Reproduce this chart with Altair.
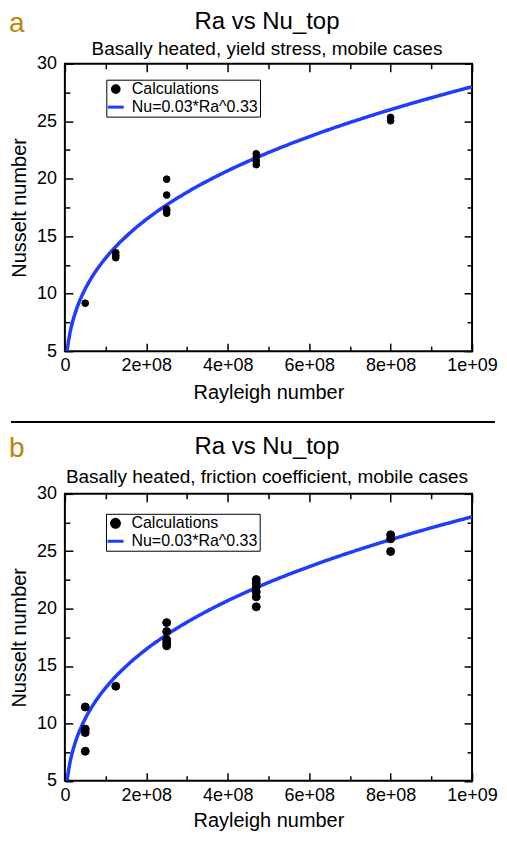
import altair as alt
import numpy as np
import pandas as pd

FONT = "Liberation Sans"
BLUE = "#1f3cff"
GOLD = "#B8860B"

# ---------------- data ----------------
SERIES = ["Calculations", "Nu=0.03*Ra^0.33"]
PANEL_LABELS = ["a", "b"]
TITLE = "Ra vs Nu_top"
SUBTITLES = [
    "Basally heated, yield stress, mobile cases",
    "Basally heated, friction coefficient, mobile cases",
]

ra_a = [5e7, 1.25e8, 1.25e8, 1.25e8, 2.5e8, 2.5e8, 2.5e8, 2.5e8, 2.5e8,
        4.7e8, 4.7e8, 4.7e8, 4.7e8, 8e8, 8e8]
nu_a = [9.17, 13.56, 13.33, 13.13, 19.96, 18.58, 17.35, 17.24, 17.0,
        22.17, 21.88, 21.54, 21.22, 25.33, 25.04]

ra_b = [5e7, 5e7, 5e7, 5e7, 1.25e8, 2.5e8, 2.5e8, 2.5e8, 2.5e8, 2.5e8,
        4.7e8, 4.7e8, 4.7e8, 4.7e8, 4.7e8, 4.7e8, 8e8, 8e8, 8e8]
nu_b = [11.43, 9.5, 9.2, 7.57, 13.24, 18.78, 18.0, 17.28, 17.0, 16.76,
        22.53, 22.24, 21.9, 21.46, 21.03, 20.16, 26.43, 26.08, 24.98]

# fit stated in the legend: Nu = 0.03 * Ra^0.33
FIT_COEF = 0.03
FIT_EXP = 0.33

X_MAJOR = [0, 2e8, 4e8, 6e8, 8e8, 1e9]
X_MINOR = [1e8, 3e8, 5e8, 7e8, 9e8]
Y_MAJOR = [5, 10, 15, 20, 25, 30]
Y_MINOR = [7.5, 12.5, 17.5, 22.5, 27.5]
X_DOMAIN = [0, 1e9]
Y_DOMAIN = [5, 30]

W = 408

ra_start = (Y_DOMAIN[0] / FIT_COEF) ** (1 / FIT_EXP)
fit_ra = np.linspace(ra_start, X_DOMAIN[1], 300)
fit_df = pd.DataFrame({"Ra": fit_ra, "Nu": FIT_COEF * fit_ra ** FIT_EXP})

XLABEL = "datum.value == 0 ? '0' : replace(format(datum.value, '.0e'), 'e+', 'e+0')"
LINE_SYMBOL = "M-2,0H2"


def text_layer(txt, x, y, size, color="black", align="center"):
    return alt.Chart(pd.DataFrame({"t": [txt]})).mark_text(
        align=align, baseline="alphabetic", font=FONT, fontSize=size, color=color
    ).encode(x=alt.value(x), y=alt.value(y), text="t:N")


def panel(ra, nu, letter, subtitle, height, pt_size, leg_x, leg_y,
          title_y, sub_y, lab_pad, title_pad, sep=False):
    pts_df = pd.DataFrame({"Ra": ra, "Nu": nu, "series": SERIES[0]})
    xs = alt.Scale(domain=X_DOMAIN, nice=False, zero=False)
    ys = alt.Scale(domain=Y_DOMAIN, nice=False, zero=False)

    leg = alt.Legend(
        orient="none", legendX=leg_x, legendY=leg_y, strokeColor="black",
        fillColor="white", padding=1.5, labelFont=FONT, labelFontSize=16,
        labelColor="black", symbolStrokeWidth=3, rowPadding=0,
        labelOffset=8,
    )

    def enc(ch, rng, **kw):
        return ch("series:N", scale=alt.Scale(domain=SERIES, range=rng, **kw),
                  legend=leg, title=None)

    major_x = alt.Axis(values=X_MAJOR, labelExpr=XLABEL, tickSize=8, offset=-8,
                       domain=False, grid=False, labelPadding=lab_pad,
                       labelFontSize=18, labelFont=FONT, labelColor="black",
                       labelFlush=False, labelOverlap=False, tickColor="black",
                       tickWidth=1.5, titleFont=FONT, titleFontSize=20,
                       titleFontWeight="normal", titleColor="black",
                       titlePadding=title_pad, orient="bottom")
    major_y = alt.Axis(values=Y_MAJOR, tickSize=8, offset=-8, domain=False,
                       grid=False, labelPadding=8.5, labelFontSize=18,
                       labelFont=FONT, labelColor="black", labelFlush=False,
                       labelOverlap=False, tickColor="black", tickWidth=1.5,
                       titleFont=FONT, titleFontSize=20, titleFontWeight="normal",
                       titleColor="black", titlePadding=7, orient="left")

    def minor(vals, orient, size):
        return alt.Axis(values=vals, tickSize=size, offset=-size, domain=False,
                        grid=False, labels=False, tickColor="black",
                        tickWidth=1.5, orient=orient, title=None)

    points = alt.Chart(pts_df).mark_point(filled=True, opacity=1, strokeWidth=1).encode(
        x=alt.X("Ra:Q", scale=xs, axis=major_x, title="Rayleigh number"),
        y=alt.Y("Nu:Q", scale=ys, axis=major_y, title="Nusselt number"),
        fill=enc(alt.Fill, ["black", BLUE]),
        stroke=enc(alt.Stroke, ["black", BLUE]),
        shape=enc(alt.Shape, ["circle", LINE_SYMBOL]),
        size=enc(alt.Size, [pt_size, 64], type="ordinal"),
    )
    line = alt.Chart(fit_df).mark_line(color=BLUE, strokeWidth=3.5, clip=True).encode(
        x=alt.X("Ra:Q", scale=xs, axis=minor(X_MINOR, "bottom", 5)),
        y=alt.Y("Nu:Q", scale=ys, axis=minor(Y_MINOR, "left", 5)),
    )
    top_major = alt.Chart(pts_df).mark_point(opacity=0).encode(
        x=alt.X("Ra:Q", scale=xs, axis=minor(X_MAJOR, "top", 8)),
        y=alt.Y("Nu:Q", scale=ys, axis=minor(Y_MAJOR, "right", 8)),
    )
    top_minor = alt.Chart(pts_df).mark_point(opacity=0).encode(
        x=alt.X("Ra:Q", scale=xs, axis=minor(X_MINOR, "top", 5)),
        y=alt.Y("Nu:Q", scale=ys, axis=minor(Y_MINOR, "right", 5)),
    )
    label = text_layer(letter, -56, title_y + 3, 28, GOLD, "left")
    ttl = text_layer(TITLE, W / 2 - 1.5, title_y, 24)
    sub = text_layer(subtitle, W / 2 - 1.5, sub_y, 19)

    layers = [line, points, top_major, top_minor, label, ttl, sub]
    if sep:
        rule = alt.Chart(pd.DataFrame({"k": [0]})).mark_rule(
            color="black", strokeWidth=2
        ).encode(x=alt.value(-54), x2=alt.value(W + 23), y=alt.value(-72))
        layers.append(rule)

    return alt.layer(*layers).resolve_axis(x="independent", y="independent").properties(
        width=W, height=height,
    )


pa = panel(ra_a, nu_a, PANEL_LABELS[0], SUBTITLES[0], 288, 45, 41.5, 16,
           -34.7, -8.3, 5.5, 8)
pb = panel(ra_b, nu_b, PANEL_LABELS[1], SUBTITLES[1], 287.5, 64, 41.2, 20,
           -39.7, -11.3, 5.7, 6.5, sep=True)

chart = alt.vconcat(pa, pb, spacing=143, bounds="flush").resolve_scale(
    fill="independent", stroke="independent", shape="independent",
    size="independent", x="independent", y="independent",
).properties(
    padding={"top": 0, "left": 0, "right": 0, "bottom": 0},
).configure_view(stroke="black", strokeWidth=2)

chart.save("out.html", embed_options={"renderer": "svg", "actions": False})
